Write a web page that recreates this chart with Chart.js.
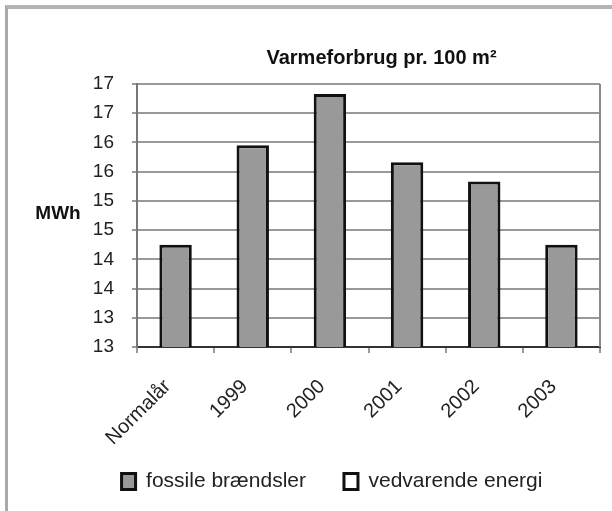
<!DOCTYPE html>
<html>
<head>
<meta charset="utf-8">
<script src="https://cdn.jsdelivr.net/npm/chart.js@4/dist/chart.umd.min.js"></script>
<style>
  html, body { margin: 0; padding: 0; background: #fff; }
  #wrap { position: relative; width: 612px; height: 511px; }
  #frame { position: absolute; left: 5px; top: 5px; right: 0; bottom: 0;
           border-left: 3px solid #aaaaaa; border-top: 4px solid #b4b4b4; pointer-events: none; }
  canvas { position: absolute; left: 0; top: 0; }
</style>
</head>
<body>
<div id="wrap">
  <canvas id="c" width="612" height="511"></canvas>
  <div id="frame"></div>
</div>
<script>
const categories = ['Normalår', '1999', '2000', '2001', '2002', '2003'];
const fossileValues = [14.75, 16.45, 17.33, 16.16, 15.83, 14.75];
const vedvarendeValues = [null, null, null, null, null, null];
const yTickLabels = ['13', '13', '14', '14', '15', '15', '16', '16', '17', '17'];
const seriesNames = ['fossile brændsler', 'vedvarende energi'];
const chartTitle = 'Varmeforbrug pr. 100 m²';
const yAxisTitle = 'MWh';

const FONT = "'Liberation Sans', Arial, sans-serif";

const extras = {
  id: 'extras',
  beforeDraw(chart) {
    // let the rotated category labels extend below the axis box (no clipping)
    const xs = chart.scales.x;
    xs.bottom = chart.height;
  },
  afterDraw(chart) {
    const ctx = chart.ctx;
    const a = chart.chartArea;
    ctx.save();
    ctx.strokeStyle = '#8a8a8a';
    ctx.lineWidth = 2;
    ctx.beginPath();
    ctx.moveTo(a.right, a.top);
    ctx.lineTo(a.right, a.bottom);
    ctx.stroke();
    ctx.fillStyle = '#111';
    ctx.font = "bold 20px " + FONT;
    ctx.textAlign = 'center';
    ctx.textBaseline = 'middle';
    ctx.fillText(chartTitle, (a.left + a.right) / 2 + 13, a.top - 26);
    ctx.font = "bold 19px " + FONT;
    ctx.fillText(yAxisTitle, 58, (a.top + a.bottom) / 2 - 2);
    ctx.restore();
  }
};

new Chart(document.getElementById('c'), {
  type: 'bar',
  data: {
    labels: categories,
    datasets: [
      { label: seriesNames[0], data: fossileValues, backgroundColor: '#999999',
        borderColor: '#111', borderWidth: 3, borderSkipped: false,
        categoryPercentage: 0.6, barPercentage: 0.7 },
      { label: seriesNames[1], data: vedvarendeValues, backgroundColor: '#ffffff',
        borderColor: '#111', borderWidth: 3, borderSkipped: false,
        categoryPercentage: 0.6, barPercentage: 0.7 }
    ]
  },
  options: {
    responsive: false,
    animation: false,
    devicePixelRatio: 1,
    layout: { padding: { left: 64, right: 12, top: 84, bottom: 9 } },
    plugins: {
      title: { display: false },
      tooltip: { enabled: false },
      legend: {
        display: true,
        position: 'bottom',
        labels: { font: { family: FONT, size: 21 }, color: '#222', boxWidth: 14, boxHeight: 16, padding: 38 }
      }
    },
    scales: {
      x: {
        stacked: true,
        afterFit(scale) { scale.height = 86; },
        grid: { display: true, drawOnChartArea: false, tickLength: 6, color: '#999', lineWidth: 2, offset: true },
        border: { display: true, color: '#333', width: 2 },
        ticks: { font: { family: FONT, size: 20 }, color: '#222', minRotation: 45, maxRotation: 45,
                 padding: 22, labelOffset: -8, autoSkip: false }
      },
      y: {
        stacked: true,
        min: 13,
        max: 17.5,
        afterFit(scale) { scale.width = 73; },
        grid: { color: '#999', lineWidth: 2, tickLength: 5 },
        border: { display: true, color: '#777', width: 2 },
        ticks: {
          stepSize: 0.5,
          font: { family: FONT, size: 19 },
          color: '#222',
          padding: 18,
          callback: function (value, index) { return yTickLabels[index]; }
        }
      }
    }
  },
  plugins: [extras]
});
</script>
</body>
</html>
